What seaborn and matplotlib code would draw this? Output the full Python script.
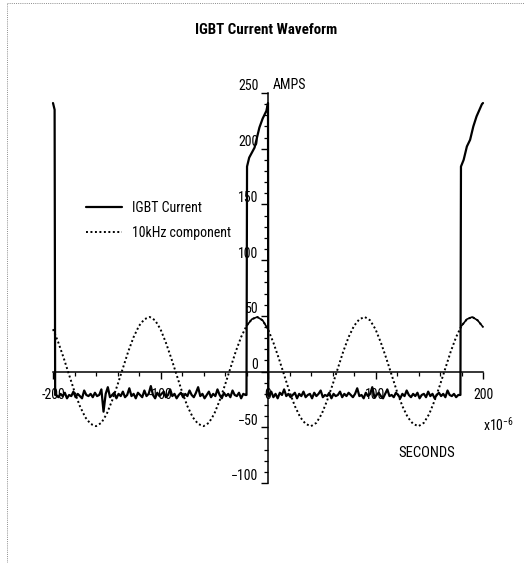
import numpy as np
import pandas as pd
import matplotlib
matplotlib.use("Agg")
import matplotlib.pyplot as plt
import matplotlib.ticker as mticker
from matplotlib import font_manager
from matplotlib.transforms import ScaledTranslation
from matplotlib.lines import Line2D
import seaborn as sns

# ---------------- data (time in microseconds, current in amps) ----------------
title_text = "IGBT Current Waveform"
y_label = "AMPS"
x_label = "SECONDS"
series_names = ["IGBT Current", "10kHz component"]

# left pulse tail (end of previous conduction)
pulse_left_t = [-200.0, -198.5, -198.0]
pulse_left_a = [241, 235, -21]

# off-state noise, first interval (sampled every 2 us from -197 to -21)
noise1_start, noise1_stop, noise_step = -197, -21, 2
noise1_a = [-21, -23, -20, -22, -19, -24, -21, -22, -18, -23,
            -20, -22, -24, -17, -21, -22, -20, -23, -19, -22,
            -21, -16, -36, -20, -14, -23, -21, -19, -24, -20,
            -22, -18, -23, -21, -15, -22, -20, -24, -19, -21,
            -23, -17, -22, -20, -13, -21, -24, -19, -22, -20,
            -18, -23, -21, -16, -22, -20, -24, -21, -19, -23,
            -20, -22, -17, -21, -23, -19, -14, -22, -20, -24,
            -21, -18, -23, -20, -22, -16, -21, -24, -19, -22,
            -20, -23, -17, -21, -22, -19, -24, -20, -21]

# conduction pulse around t = 0
pulse_mid_t = [-20.0, -19.5, -17.5, -12.5, -8.0, -5.0, -1.5, 0.0, 0.3]
pulse_mid_a = [-21, 184, 192, 201, 219, 227, 234, 241, -21]

# off-state noise, second interval (sampled every 2 us from 1 to 177)
noise2_start, noise2_stop = 1, 177
noise2_a = [-22, -18, -23, -20, -24, -19, -21, -16, -22, -20,
            -23, -21, -19, -24, -20, -22, -18, -23, -21, -20,
            -24, -19, -22, -20, -17, -23, -21, -22, -19, -24,
            -20, -22, -21, -18, -23, -20, -22, -19, -21, -23,
            -20, -15, -22, -21, -24, -19, -22, -20, -14, -23,
            -21, -19, -22, -24, -20, -16, -22, -21, -23, -19,
            -21, -24, -20, -22, -17, -21, -23, -20, -22, -19,
            -24, -21, -20, -23, -18, -22, -20, -24, -21, -19,
            -22, -20, -23, -17, -21, -22, -20, -23, -21]

# conduction pulse at the right end
pulse_right_t = [179.0, 179.5, 182.0, 185.0, 188.0, 191.0, 194.0, 199.0, 200.0]
pulse_right_a = [-21, 184, 190, 202, 208, 220, 229, 240, 241]

# 10 kHz component, read every 5 us from -200 to 200
comp_start, comp_stop, comp_step = -200, 200, 5
comp_a = [38, 26, 12, -3, -18, -31, -41, -47, -49, -46,
          -38, -26, -12, 3, 18, 31, 41, 47, 49, 46,
          38, 26, 12, -3, -18, -31, -41, -47, -49, -46,
          -38, -26, -12, 3, 18, 31, 41, 47, 49, 46,
          38, 26, 12, -3, -18, -31, -41, -47, -49, -46,
          -38, -26, -12, 3, 18, 31, 41, 47, 49, 46,
          38, 26, 12, -3, -18, -31, -41, -47, -49, -46,
          -38, -26, -12, 3, 18, 31, 41, 47, 49, 46,
          40]

x_ticks_major = [-200, -100, 0, 100, 200]
x_tick_labels = ["-200", "-100", "0", "100", "200"]
y_ticks_major = [-100, -50, 0, 50, 100, 150, 200, 250]
y_tick_labels = ["\u2212100", "\u221250", "0", "50", "100", "150", "200", "250"]

# ---------------- build tables ----------------
noise1_t = np.arange(noise1_start, noise1_stop + 1, noise_step)
noise2_t = np.arange(noise2_start, noise2_stop + 1, noise_step)
cur_t = np.concatenate([pulse_left_t, noise1_t, pulse_mid_t, noise2_t, pulse_right_t])
cur_a = np.concatenate([pulse_left_a, noise1_a, pulse_mid_a, noise2_a, pulse_right_a])
current = pd.DataFrame({"t": cur_t, "a": cur_a})

comp_t = np.arange(comp_start, comp_stop + 1, comp_step)
comp = pd.DataFrame({"t": comp_t, "a": comp_a})
comp_on = comp[(comp.t >= -20) & (comp.t <= 0)]
comp_on2 = comp[comp.t >= 180]

# ---------------- font: prefer a narrow sans ----------------
def pick_narrow_font():
    entries = font_manager.fontManager.ttflist
    names = {f.name for f in entries}
    for cand in ("Liberation Sans Narrow", "Arial Narrow", "Nimbus Sans Narrow",
                 "Roboto Condensed", "Open Sans Condensed", "DejaVu Sans Condensed"):
        if cand in names:
            return cand, "normal"
    for f in entries:
        st = str(f.stretch).lower()
        if f.name in ("DejaVu Sans", "Liberation Sans", "Open Sans", "Roboto",
                      "Noto Sans", "Inter") and "condensed" in st:
            return f.name, "condensed"
    for f in entries:
        if "narrow" in f.name.lower() or "condensed" in f.name.lower():
            return f.name, "normal"
    return "Liberation Sans", "normal"

font_name, font_stretch = pick_narrow_font()

sns.set_style("ticks")
plt.rcParams["font.family"] = [font_name, "DejaVu Sans"]
plt.rcParams["font.stretch"] = font_stretch
plt.rcParams["text.color"] = "black"
plt.rcParams["axes.labelcolor"] = "black"
plt.rcParams["xtick.color"] = "black"
plt.rcParams["ytick.color"] = "black"
plt.rcParams["axes.unicode_minus"] = True

W, H = 525, 563
fig = plt.figure(figsize=(W / 100, H / 100), dpi=100)
fig.patch.set_facecolor("white")
ax = fig.add_axes([53 / W, (H - 483) / H, 430 / W, 390 / H])
ax.set_facecolor("white")

sns.lineplot(data=current, x="t", y="a", ax=ax, sort=False, estimator=None,
             color="black", lw=1.6, label=series_names[0], clip_on=False)
sns.lineplot(data=comp, x="t", y="a", ax=ax, sort=False, estimator=None,
             color="black", lw=1.4, linestyle=(0, (1, 1.3)),
             label=series_names[1], clip_on=False)
for part in (comp_on, comp_on2):
    sns.lineplot(data=part, x="t", y="a", ax=ax, sort=False, estimator=None,
                 color="black", lw=1.2, legend=False, clip_on=False)

ax.set_xlim(-200, 200)
ax.set_ylim(-100, 250)
ax.set_xlabel("")
ax.set_ylabel("")

for s in ("top", "right"):
    ax.spines[s].set_visible(False)
ax.spines["left"].set_position(("data", 0))
ax.spines["bottom"].set_position(("data", 0))
for s in ("left", "bottom"):
    ax.spines[s].set_linewidth(1.1)
    ax.spines[s].set_color("black")
    ax.spines[s].set_zorder(1)

ax.set_xticks(x_ticks_major)
ax.set_xticklabels(x_tick_labels)
ax.set_yticks(y_ticks_major)
ax.set_yticklabels(y_tick_labels)
ax.xaxis.set_minor_locator(mticker.MultipleLocator(20))
ax.yaxis.set_minor_locator(mticker.MultipleLocator(10))
ax.tick_params(axis="both", which="major", direction="out", length=5,
               width=1.0, color="black", labelsize=10, labelcolor="black")
ax.tick_params(axis="both", which="minor", direction="out", length=3,
               width=0.9, color="black")
ax.tick_params(axis="x", which="major", pad=7)
ax.tick_params(axis="y", which="major", pad=2)

lift = ScaledTranslation(0, 8 / 100, fig.dpi_scale_trans)
for lab in ax.get_yticklabels():
    lab.set_transform(lab.get_transform() + lift)

ax.annotate(y_label, xy=(0, 250), xytext=(5, 8), textcoords="offset pixels",
            ha="left", va="center", fontsize=10, color="black")

leg = ax.legend(loc="upper left", bbox_to_anchor=(86 / W, 1 - 201 / H),
                bbox_transform=fig.transFigure, frameon=False, fontsize=10,
                handlelength=2.6, handletextpad=0.7, labelspacing=0.8,
                borderpad=0, borderaxespad=0)
for txt in leg.get_texts():
    txt.set_color("black")

fig.text(266 / W, 1 - 30 / H, title_text, ha="center", va="center",
         fontsize=10.8, fontweight="bold", color="black")
fig.text(427 / W, 1 - 453 / H, x_label, ha="center", va="center",
         fontsize=10.5, color="black")
fig.text(483 / W, 1 - 431 / H, r"x10$^{\mathregular{-6}}$", ha="left",
         va="baseline", fontsize=10, color="black")

# dotted page border (left and top)
fig.add_artist(Line2D([7 / W, 7 / W], [0, 1 - 3 / H], transform=fig.transFigure,
                      color="0.55", lw=0.7, linestyle=(0, (1, 1.2))))
fig.add_artist(Line2D([7 / W, 1], [1 - 3 / H, 1 - 3 / H], transform=fig.transFigure,
                      color="0.55", lw=0.7, linestyle=(0, (1, 1.2))))

fig.savefig("out.png", dpi=100, facecolor="white")
